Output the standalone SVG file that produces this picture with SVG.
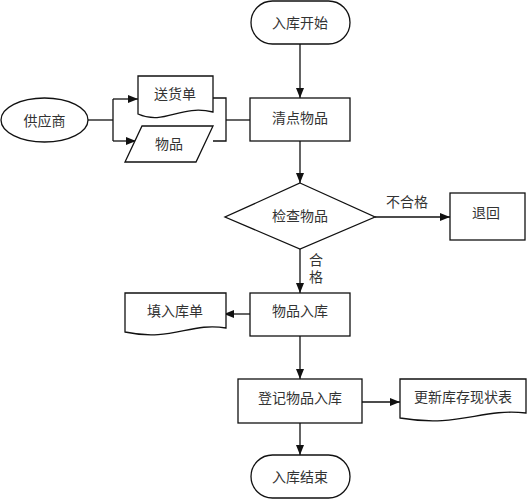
<svg xmlns="http://www.w3.org/2000/svg" width="527" height="500" viewBox="0 0 527 500">
<defs>
<marker id="ah" viewBox="0 0 10 10" refX="10" refY="5" markerWidth="10" markerHeight="10" markerUnits="userSpaceOnUse" orient="auto">
<path d="M0,1 L10,5 L0,9 Z" fill="#111"/>
</marker>
<style>
.s{fill:#fff;stroke:#111;stroke-width:1.3}
.l{fill:none;stroke:#111;stroke-width:1.3}
.t{font-family:"Noto Sans CJK SC","Noto Sans",sans-serif;font-size:14px;fill:#333;text-anchor:middle;dominant-baseline:central}
.v{writing-mode:vertical-rl;letter-spacing:3px}
</style>
</defs>
<rect width="527" height="500" fill="#fff"/>
<g id="connectors">
<line class="l" x1="300" y1="44" x2="300" y2="98" marker-end="url(#ah)"/>
<line class="l" x1="300" y1="141" x2="300" y2="183" marker-end="url(#ah)"/>
<line class="l" x1="375" y1="217" x2="450" y2="217" marker-end="url(#ah)"/>
<line class="l" x1="300" y1="249" x2="300" y2="293" marker-end="url(#ah)"/>
<line class="l" x1="250" y1="314" x2="224" y2="314" marker-end="url(#ah)"/>
<line class="l" x1="300" y1="336" x2="300" y2="379" marker-end="url(#ah)"/>
<line class="l" x1="362" y1="402" x2="400" y2="402" marker-end="url(#ah)"/>
<line class="l" x1="300" y1="423" x2="300" y2="455" marker-end="url(#ah)"/>
<polyline class="l" points="88,120 113,120"/>
<polyline class="l" points="113,99 113,141"/>
<line class="l" x1="113" y1="99" x2="138" y2="99" marker-end="url(#ah)"/>
<line class="l" x1="113" y1="141" x2="136" y2="141" marker-end="url(#ah)"/>
<polyline class="l" points="213,98 226,98 226,141 213,141"/>
<line class="l" x1="226" y1="120" x2="250" y2="120"/>
<text class="t" x="407" y="201">不合格</text>
<text class="t v" x="316" y="270">合格</text>
</g>
<g id="start">
<rect class="s" x="251" y="1" width="99" height="43" rx="21.5"/>
<text class="t" x="300" y="22">入库开始</text>
</g>
<g id="supplier">
<ellipse class="s" cx="44.5" cy="120" rx="43.5" ry="22"/>
<text class="t" x="44.5" y="120">供应商</text>
</g>
<g id="delivery-note">
<path class="s" d="M138,76 H213 V112 C180,104 165,126 138,114 Z"/>
<text class="t" x="175" y="93">送货单</text>
</g>
<g id="goods">
<path class="s" d="M142,126 H213 L196,162 H125 Z"/>
<text class="t" x="169" y="143">物品</text>
</g>
<g id="check-count">
<rect class="s" x="250" y="98" width="100" height="43"/>
<text class="t" x="300" y="117">清点物品</text>
</g>
<g id="inspect">
<path class="s" d="M300,183 L375,217 L300,249 L225,217 Z"/>
<text class="t" x="300" y="215">检查物品</text>
</g>
<g id="return">
<rect class="s" x="450" y="193" width="75" height="47"/>
<text class="t" x="486" y="212">退回</text>
</g>
<g id="goods-in">
<rect class="s" x="250" y="293" width="100" height="43"/>
<text class="t" x="300" y="310">物品入库</text>
</g>
<g id="fill-form">
<path class="s" d="M125,293 H226 V328 C190,322 172,342 125,332 Z"/>
<text class="t" x="175" y="310">填入库单</text>
</g>
<g id="register">
<rect class="s" x="238" y="379" width="124" height="44"/>
<text class="t" x="300" y="397">登记物品入库</text>
</g>
<g id="update-table">
<path class="s" d="M400,379 H526 V413 C480,408 460,428 400,418 Z"/>
<text class="t" x="463" y="396">更新库存现状表</text>
</g>
<g id="end">
<rect class="s" x="251" y="455" width="99" height="43" rx="21.5"/>
<text class="t" x="300" y="476">入库结束</text>
</g>
</svg>
